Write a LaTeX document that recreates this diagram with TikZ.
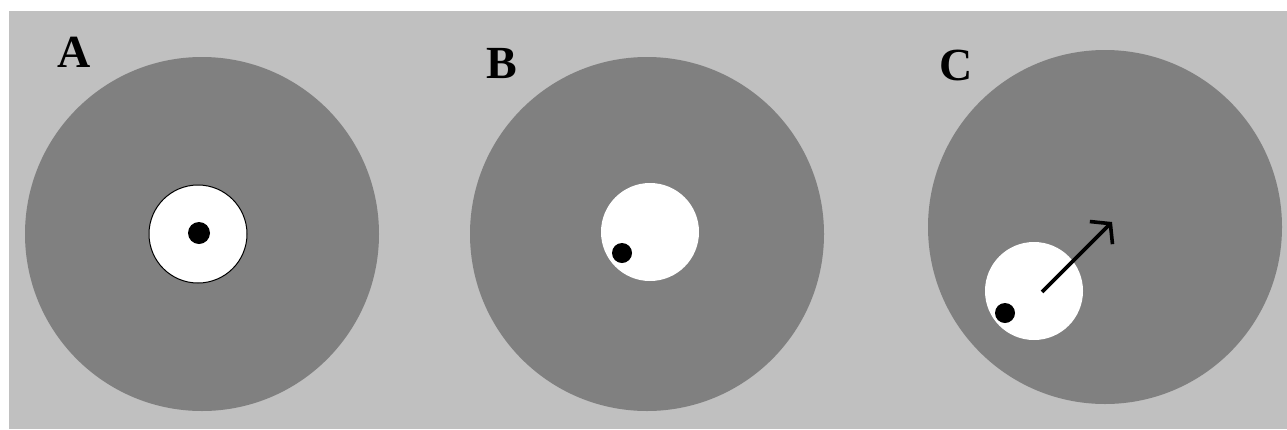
\documentclass[tikz,border=0pt]{standalone}
\usepackage{fontspec}
\setmainfont{Liberation Serif}
\usetikzlibrary{arrows.meta}
\definecolor{bglight}{HTML}{C0C0C0}
\definecolor{disk}{HTML}{808080}
\tikzset{
  bigdisk/.style={circle, fill=disk, minimum size=354pt, inner sep=0pt},
  hole/.style={circle, fill=white, minimum size=98pt, inner sep=0pt},
  dot/.style={circle, fill=black, minimum size=22pt, inner sep=0pt},
  lbl/.style={font=\fontsize{46}{46}\selectfont\bfseries, inner sep=0pt},
}
\begin{document}
\begin{tikzpicture}[x=1pt,y=-1pt]
\useasboundingbox (0,0) rectangle (1287,429);
\fill[white] (0,0) rectangle (1287,429);
\fill[bglight] (9,11) rectangle (1287,429);
% A
\node[bigdisk] (dA) at (202,234) {};
\node[hole, draw=black, line width=1pt] (hA) at (198,234) {};
\node[dot] (pA) at (199,233) {};
\node[lbl] (lA) at (74,52) {A};
% B
\node[bigdisk] (dB) at (647,234) {};
\node[hole] (hB) at (650,232) {};
\node[dot, minimum size=20pt] (pB) at (622,253) {};
\node[lbl] (lB) at (502,64) {B};
% C
\node[bigdisk] (dC) at (1105,227) {};
\node[hole] (hC) at (1034,291) {};
\node[dot, minimum size=20pt] (pC) at (1005,313) {};
\coordinate (aS) at (1042,292);
\coordinate (aE) at (1112,222);
\draw[line width=3.6pt, -{Straight Barb[length=13pt,width=32pt,line width=3.6pt]}] (aS) -- (aE);
\node[lbl] (lC) at (956,65) {C};
\end{tikzpicture}
\end{document}
